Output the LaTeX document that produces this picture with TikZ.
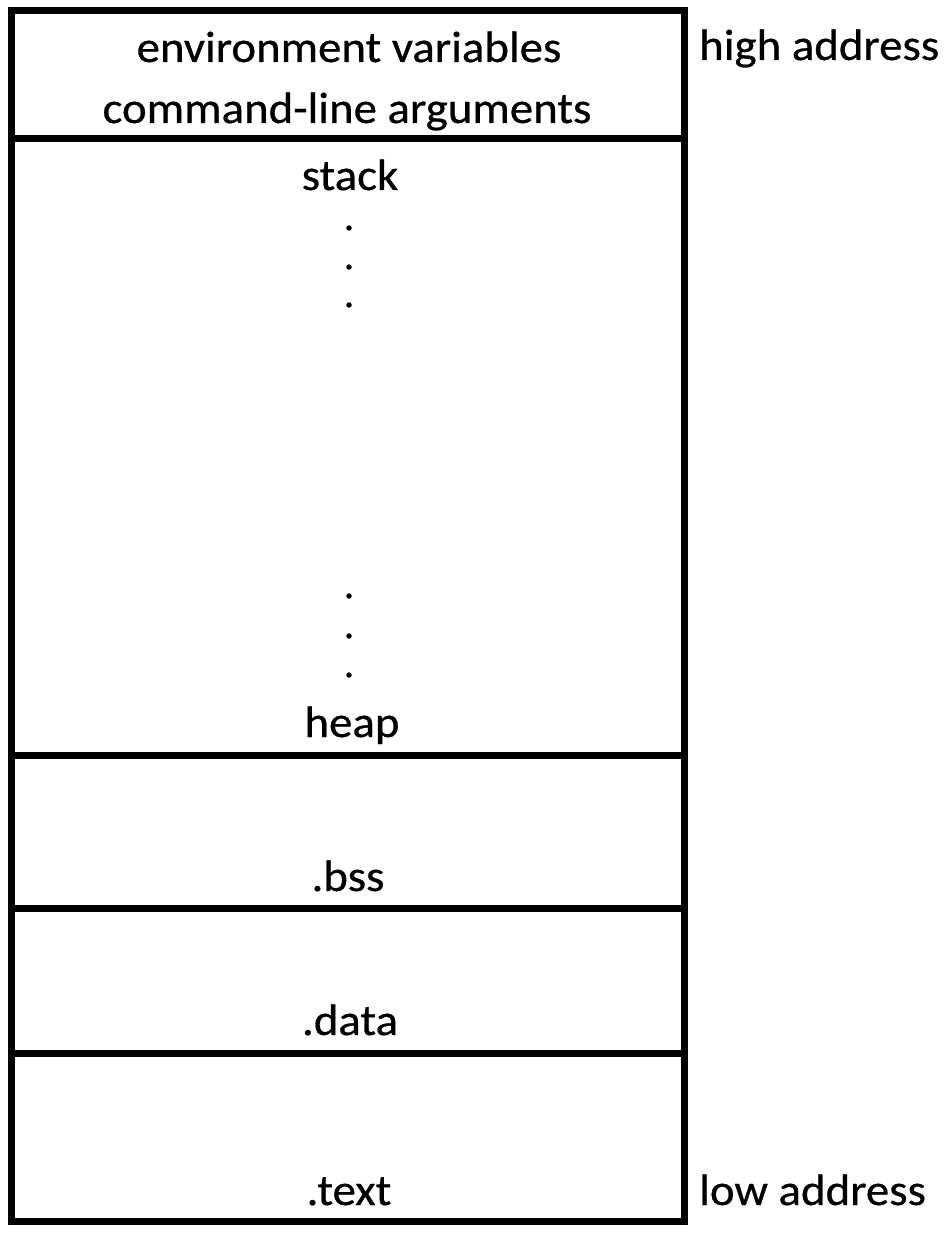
\documentclass[tikz,border=0pt]{standalone}
\usepackage{fontspec}
\setmainfont[FakeStretch=1.065,FakeBold=0.6]{Carlito}
\begin{document}
\begin{tikzpicture}[x=1pt,y=-1pt,
  seg/.style={draw=black,line width=7pt,minimum width=673pt,inner sep=0pt,outer sep=0pt,anchor=north west},
  lbl/.style={inner sep=0pt,anchor=base,font=\fontsize{44}{53}\selectfont},
  side/.style={inner sep=0pt,anchor=base west,font=\fontsize{44}{53}\selectfont},
  dotm/.style={circle,fill=black,inner sep=0pt,minimum size=5.5pt}]
\useasboundingbox[fill=white] (0,0) rectangle (945,1233);
% segments
\node[seg,minimum height=128pt] (env) at (11,11) {};
\node[seg,minimum height=616pt] (stk) at (11,139) {};
\node[seg,minimum height=153pt] (bss) at (11,755) {};
\node[seg,minimum height=145pt] (dat) at (11,908) {};
\node[seg,minimum height=168pt] (txt) at (11,1053) {};
% labels
\node[lbl] (envvar) at (349,62) {environment variables};
\node[lbl] (cmdarg) at (347,123) {command-line arguments};
\node[lbl] (stack) at (350,190) {stack};
\node[dotm] (d1) at (349,228) {};
\node[dotm] (d2) at (349,267) {};
\node[dotm] (d3) at (349,305) {};
\node[dotm] (d4) at (349,596) {};
\node[dotm] (d5) at (349,636) {};
\node[dotm] (d6) at (349,675) {};
\node[lbl] (heap) at (352,737) {heap};
\node[lbl] (bsslbl) at (348,891) {.bss};
\node[lbl] (datlbl) at (350,1035) {.data};
\node[lbl] (txtlbl) at (349,1205) {.text};
\node[side] (high) at (699,60) {high address};
\node[side] (low) at (699,1205) {low address};
\end{tikzpicture}
\end{document}
